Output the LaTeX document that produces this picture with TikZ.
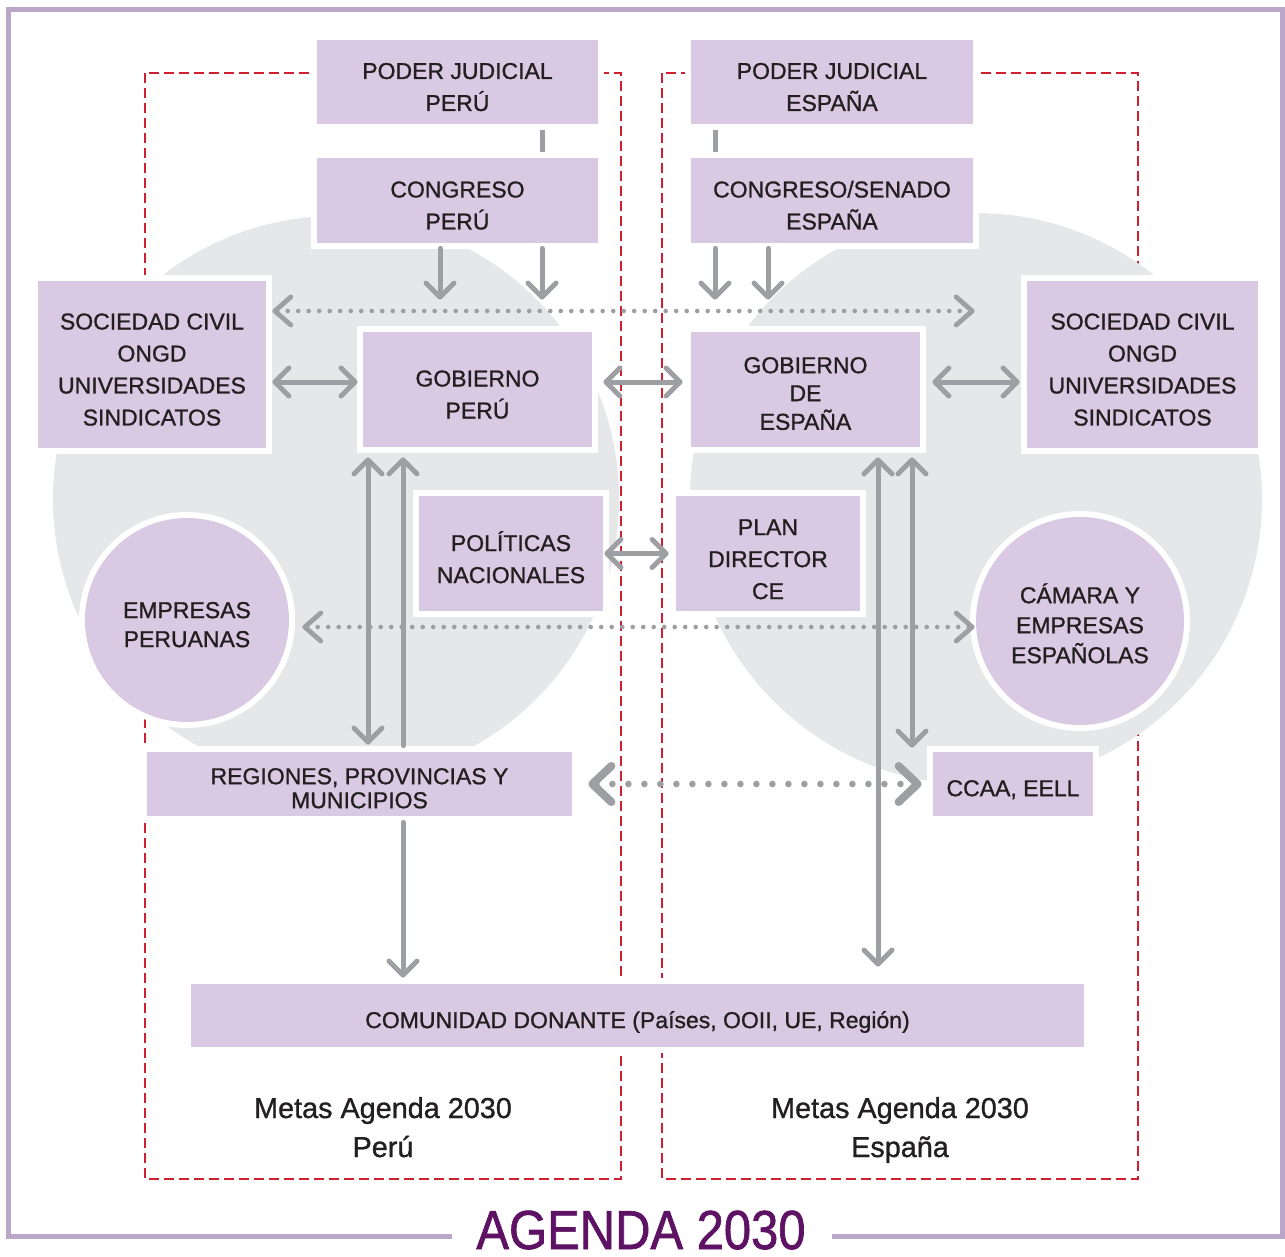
\documentclass[tikz,border=0pt]{standalone}
\usepackage{fontspec}
\setmainfont{Liberation Sans}
\newfontfamily\boxfont[FakeBold=1.0]{Liberation Sans}
\newfontfamily\titlefont[FakeStretch=0.89,FakeBold=1.2]{Liberation Sans}
\usetikzlibrary{arrows.meta,calc}
\definecolor{framecol}{RGB}{185,166,201}
\definecolor{boxfill}{RGB}{217,201,226}
\definecolor{circgray}{RGB}{230,231,232}
\definecolor{agray}{RGB}{157,159,162}
\definecolor{reddash}{RGB}{206,32,48}
\definecolor{titlecol}{RGB}{94,18,100}
\definecolor{txt}{RGB}{35,31,32}
% box text: a centred tabular, drawn lower than its reported size
\newcommand\bt[2][3.3pt]{\raisebox{-#1}[\height][\depth]{\begin{tabular}{@{}c@{}}#2\end{tabular}}}
\tikzset{
  gtip/.tip={Straight Barb[length=7pt,width=14pt,round]},
  dtip/.tip={Straight Barb[length=8pt,width=14pt,round,line width=2.4pt]},
  btip/.tip={Straight Barb[length=9.5pt,width=18pt,round,line width=4pt]},
  lbox/.style={fill=boxfill, inner sep=0pt, text=txt,
    font=\boxfont\fontsize{11.5}{16}\selectfont, preaction={draw=white, line width=6pt}},
  rbox/.style={lbox, circle, minimum size=103pt},
  garrow/.style={draw=agray, line width=2.5pt, line cap=round},
  dotarrow/.style={draw=agray, line width=2.3pt, line cap=round, dash pattern=on 0pt off 5.25pt},
  bigdot/.style={draw=agray, line width=3.3pt, line cap=round, dash pattern=on 0pt off 8pt},
  redline/.style={draw=reddash, line width=1.25pt, dash pattern=on 5pt off 2.5pt},
  metas/.style={text=txt, align=center, font=\boxfont\fontsize{14.4}{19.5}\selectfont, anchor=base}
}
\begin{document}
\begin{tikzpicture}[x=0.5pt,y=-0.5pt]
\useasboundingbox (0,0) rectangle (1285,1257);
\fill[white] (0,0) rectangle (1285,1257);

% outer frame
\draw[framecol, line width=2.5pt] (452,1236) -- (8.5,1236) -- (8.5,9.5) -- (1282,9.5) -- (1282,1236) -- (832,1236);
\node[text=titlecol, font=\titlefont\fontsize{27.5}{27.5}\selectfont, anchor=base, inner sep=0pt] (title) at (641,1249) {AGENDA 2030};

% red dashed areas
\draw[redline] (145,73) rectangle (621,1179);
\draw[redline] (662,73) rectangle (1138,1179);

% gray circles
\fill[circgray] (336,499) circle[radius=283];
\fill[circgray] (976,499) circle[radius=286];

% boxes
\node[lbox, minimum width=140.5pt, minimum height=42pt] (pjp) at (457.5,82) {\bt{PODER JUDICIAL\\PERÚ}};
\node[lbox, minimum width=141pt, minimum height=42pt] (pje) at (832,82) {\bt{PODER JUDICIAL\\ESPAÑA}};
\node[lbox, minimum width=140.5pt, minimum height=42.5pt] (cp) at (457.5,200.5) {\bt{CONGRESO\\PERÚ}};
\node[lbox, minimum width=141pt, minimum height=42.5pt] (ce) at (832,200.5) {\bt{CONGRESO/SENADO\\ESPAÑA}};
\node[lbox, minimum width=114pt, minimum height=83.5pt] (scl) at (152,364.5) {\bt{SOCIEDAD CIVIL\\ONGD\\UNIVERSIDADES\\SINDICATOS}};
\node[lbox, minimum width=115.5pt, minimum height=83.5pt] (scr) at (1142.5,364.5) {\bt{SOCIEDAD CIVIL\\ONGD\\UNIVERSIDADES\\SINDICATOS}};
\node[lbox, minimum width=114.5pt, minimum height=57.5pt] (gp) at (477.5,389.5) {\bt{GOBIERNO\\PERÚ}};
\node[lbox, minimum width=114.5pt, minimum height=57.5pt, font=\boxfont\fontsize{11.5}{14}\selectfont] (ge) at (805.5,389.5) {\bt[3.2pt]{GOBIERNO\\DE\\ESPAÑA}};
\node[lbox, minimum width=92pt, minimum height=57.5pt] (pn) at (511,553.5) {\bt[3.6pt]{POLÍTICAS\\NACIONALES}};
\node[lbox, minimum width=92pt, minimum height=57.5pt] (pd) at (768,553.5) {\bt[3.6pt]{PLAN\\DIRECTOR\\CE}};
\node[rbox, minimum size=102pt, font=\boxfont\fontsize{11.5}{14.5}\selectfont] (emp) at (187,620) {\bt[3.4pt]{EMPRESAS\\PERUANAS}};
\node[rbox, minimum size=104pt, font=\boxfont\fontsize{11.5}{15}\selectfont] (cam) at (1080,621) {\bt[3.1pt]{CÁMARA Y\\EMPRESAS\\ESPAÑOLAS}};
\node[lbox, minimum width=212.5pt, minimum height=32pt, font=\boxfont\fontsize{11.5}{12}\selectfont] (reg) at (359.5,784) {\bt[3.7pt]{REGIONES, PROVINCIAS Y\\MUNICIPIOS}};
\node[lbox, minimum width=80pt, minimum height=32pt] (ccaa) at (1013,784) {\bt[2.9pt]{CCAA, EELL}};
\node[lbox, minimum width=446.5pt, minimum height=31.5pt] (com) at (637.5,1015.5) {\bt[3.1pt]{COMUNIDAD DONANTE (Países, OOII, UE, Región)}};

% bottom texts
\node[metas] (mp) at (383,1157) {Metas Agenda 2030\\Perú};
\node[metas] (me) at (900,1157) {Metas Agenda 2030\\España};

% reference coordinates
\coordinate (xpj) at (542,0);
\coordinate (xej) at (715,0);
\coordinate (xc1) at (440,0);
\coordinate (xc2) at (542,0);
\coordinate (xe1) at (715,0);
\coordinate (xe2) at (768,0);
\coordinate (yd1) at (0,311);
\coordinate (yh) at (0,382);
\coordinate (ye) at (0,627);
\coordinate (xl1) at (368,0);
\coordinate (xl2) at (403,0);
\coordinate (xr1) at (878,0);
\coordinate (xr2) at (912,0);

% judicial bars
\draw[garrow, line cap=butt, shorten <=3pt, shorten >=3pt] (pjp.south -| xpj) -- (cp.north -| xpj);
\draw[garrow, line cap=butt, shorten <=3pt, shorten >=3pt] (pje.south -| xej) -- (ce.north -| xej);

% congress arrows
\draw[garrow, -gtip, shorten <=2.5pt, shorten >=16pt] (cp.south -| xc1) -- (gp.north -| xc1);
\draw[garrow, -gtip, shorten <=2.5pt, shorten >=16pt] (cp.south -| xc2) -- (gp.north -| xc2);
\draw[garrow, -gtip, shorten <=2.5pt, shorten >=16pt] (ce.south -| xe1) -- (ge.north -| xe1);
\draw[garrow, -gtip, shorten <=2.5pt, shorten >=16pt] (ce.south -| xe2) -- (ge.north -| xe2);

% dotted top
\draw[dotarrow, dtip-dtip, shorten <=3pt, shorten >=26pt] (scl.east |- yd1) -- (scr.west |- yd1);

% horizontals
\draw[garrow, gtip-gtip, shorten <=3pt, shorten >=2.5pt] (scl.east |- yh) -- (gp.west |- yh);
\draw[garrow, gtip-gtip, shorten <=5.5pt, shorten >=4pt] (gp.east |- yh) -- (ge.west |- yh);
\draw[garrow, gtip-gtip, shorten <=6pt, shorten >=3.5pt] (ge.east |- yh) -- (scr.west |- yh);
\draw[garrow, gtip-gtip, shorten <=0.5pt, shorten >=3.5pt] (pn.east) -- (pd.west);

% dotted empresas
\draw[dotarrow, dtip-dtip, shorten <=6.5pt, shorten >=0.5pt] (emp.east |- ye) -- (cam.west |- ye);

% left verticals
\draw[garrow, gtip-gtip, shorten <=5pt, shorten >=3.5pt] (gp.south -| xl1) -- (reg.north -| xl1);
\draw[garrow, gtip-, shorten <=5pt, shorten >=3pt] (gp.south -| xl2) -- (reg.north -| xl2);
\draw[garrow, -gtip, shorten <=3pt, shorten >=3pt] (reg.south -| xl2) -- (com.north -| xl2);

% right verticals
\draw[garrow, gtip-gtip, shorten <=5pt, shorten >=8.5pt] (ge.south -| xr1) -- (com.north -| xr1);
\draw[garrow, gtip-gtip, shorten <=5pt, shorten >=2pt] (ge.south -| xr2) -- (ccaa.north -| xr2);

% bottom dotted
\draw[bigdot, btip-btip, shorten <=8pt, shorten >=5.5pt] (reg.east) -- (ccaa.west);
\end{tikzpicture}
\end{document}
